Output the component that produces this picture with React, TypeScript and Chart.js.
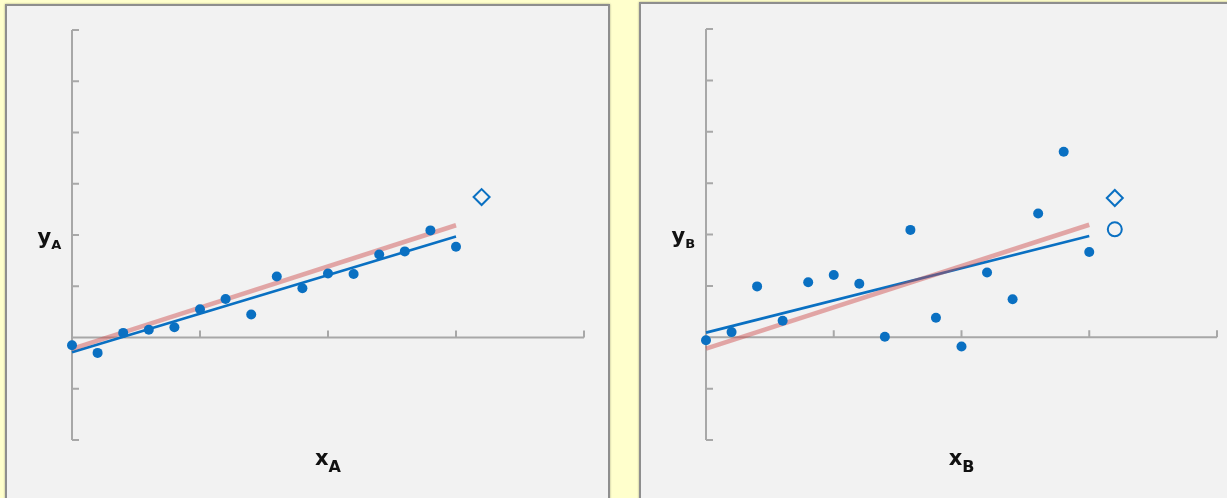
import React, { useEffect, useRef } from "react";
import { Chart, registerables } from "chart.js";

Chart.register(...registerables);

// Sample positions shared by both panels
const sampleX = [0, 0.2, 0.4, 0.6, 0.8, 1.0, 1.2, 1.4, 1.6, 1.8, 2.0, 2.2, 2.4, 2.6, 2.8, 3.0];

// Panel A observations (low noise)
const sampleYA = [-0.15, -0.3, 0.09, 0.15, 0.2, 0.55, 0.75, 0.45, 1.19, 0.96, 1.25, 1.24, 1.62, 1.68, 2.09, 1.77];
// Panel B observations (high noise)
const sampleYB = [-0.06, 0.1, 0.99, 0.32, 1.07, 1.21, 1.04, 0.01, 2.09, 0.38, -0.18, 1.26, 0.74, 2.41, 3.61, 1.66];

// Line end points (x = 0 and x = 3)
const lineX = [0, 3];
const trueLineY = [-0.22, 2.19];
const fitLineYA = [-0.29, 1.97];
const fitLineYB = [0.09, 1.97];

// Prediction point markers
const predictX = 3.2;
const diamondYA = 2.74;
const diamondYB = 2.71;
const circleYB = 2.1;

// Axis ranges and tick positions
const xRange = [0, 4];
const yRange = [-2, 6];
const xTicks = [1, 2, 3, 4];
const yTicks = [-2, -1, 0, 1, 2, 3, 4, 5, 6];

const BLUE = "#0a70c2";
const PINK = "rgba(205, 72, 72, 0.45)";
const AXIS = "#a8a8a8";
const FONT = "'DejaVu Sans', Verdana, sans-serif";

type PanelProps = {
  ys: number[];
  fit: number[];
  diamondY: number;
  circleY?: number;
  sub: string;
  left: number;
  top: number;
  width: number;
  canvasW: number;
  canvasH: number;
  padding: { left: number; top: number; right: number; bottom: number };
};

function drawLabel(
  ctx: CanvasRenderingContext2D,
  main: string,
  sub: string,
  x: number,
  baseline: number,
  mainSize: number,
  subSize: number,
  drop: number,
  align: "left" | "center"
) {
  ctx.save();
  ctx.fillStyle = "#111";
  ctx.textAlign = "left";
  ctx.textBaseline = "alphabetic";
  ctx.font = `bold ${mainSize}px ${FONT}`;
  const wMain = ctx.measureText(main).width;
  ctx.font = `bold ${subSize}px ${FONT}`;
  const wSub = ctx.measureText(sub).width;
  const startX = align === "center" ? x - (wMain + wSub) / 2 : x;
  ctx.font = `bold ${mainSize}px ${FONT}`;
  ctx.fillText(main, startX, baseline);
  ctx.font = `bold ${subSize}px ${FONT}`;
  ctx.fillText(sub, startX + wMain, baseline + drop);
  ctx.restore();
}

const axesPlugin = {
  id: "crossAxes",
  beforeDatasetsDraw(chart: any) {
    const { ctx, scales } = chart;
    const xs = scales.x;
    const ys = scales.y;
    const x0 = xs.getPixelForValue(0);
    const y0 = ys.getPixelForValue(0);
    const tick = 7;
    ctx.save();
    ctx.strokeStyle = AXIS;
    ctx.lineWidth = 2;
    ctx.beginPath();
    // vertical axis with ticks pointing right
    ctx.moveTo(x0, ys.getPixelForValue(yRange[0]));
    ctx.lineTo(x0, ys.getPixelForValue(yRange[1]));
    yTicks.forEach((v) => {
      const py = ys.getPixelForValue(v);
      ctx.moveTo(x0, py);
      ctx.lineTo(x0 + tick, py);
    });
    // horizontal axis at y = 0 with ticks pointing up
    ctx.moveTo(xs.getPixelForValue(xRange[0]), y0);
    ctx.lineTo(xs.getPixelForValue(xRange[1]), y0);
    xTicks.forEach((v) => {
      const px = xs.getPixelForValue(v);
      ctx.moveTo(px, y0);
      ctx.lineTo(px, y0 - tick);
    });
    ctx.stroke();
    ctx.restore();
  },
  afterDraw(chart: any) {
    const { ctx, scales } = chart;
    const sub = chart.options.plugins.crossAxes.sub;
    const xs = scales.x;
    const ys = scales.y;
    drawLabel(ctx, "y", sub, xs.getPixelForValue(0) - 34.5, ys.getPixelForValue(2) + 8.5, 21, 13, 5, "left");
    drawLabel(ctx, "x", sub, xs.getPixelForValue(2), ys.getPixelForValue(-2) + 25, 21, 16, 6.5, "center");
  },
};

function RegressionPanel(props: PanelProps) {
  const ref = useRef<HTMLCanvasElement>(null);

  useEffect(() => {
    if (!ref.current) return;
    const points = sampleX.map((x, i) => ({ x, y: props.ys[i] }));
    const datasets: any[] = [
      {
        data: points,
        pointRadius: 5,
        pointBackgroundColor: BLUE,
        pointBorderWidth: 0,
        showLine: false,
        clip: false,
      },
      {
        data: [{ x: predictX, y: props.diamondY }],
        pointStyle: "rectRot",
        pointRadius: 8,
        pointBorderWidth: 2,
        pointBorderColor: BLUE,
        pointBackgroundColor: "rgba(0,0,0,0)",
        showLine: false,
        clip: false,
      },
    ];
    if (props.circleY !== undefined) {
      datasets.push({
        data: [{ x: predictX, y: props.circleY }],
        pointStyle: "circle",
        pointRadius: 7,
        pointBorderWidth: 2,
        pointBorderColor: BLUE,
        pointBackgroundColor: "rgba(0,0,0,0)",
        showLine: false,
        clip: false,
      });
    }
    datasets.push(
      {
        data: lineX.map((x, i) => ({ x, y: trueLineY[i] })),
        showLine: true,
        borderColor: PINK,
        borderWidth: 4.5,
        pointRadius: 0,
        borderCapStyle: "butt",
        clip: false,
      },
      {
        data: lineX.map((x, i) => ({ x, y: props.fit[i] })),
        showLine: true,
        borderColor: BLUE,
        borderWidth: 2.6,
        pointRadius: 0,
        borderCapStyle: "butt",
        clip: false,
      }
    );

    const chart = new Chart(ref.current, {
      type: "scatter",
      data: { datasets },
      options: {
        animation: false,
        responsive: false,
        maintainAspectRatio: false,
        events: [],
        layout: { padding: props.padding },
        plugins: {
          legend: { display: false },
          tooltip: { enabled: false },
          crossAxes: { sub: props.sub },
        } as any,
        scales: {
          x: { type: "linear", min: xRange[0], max: xRange[1], display: false },
          y: { type: "linear", min: yRange[0], max: yRange[1], display: false },
        },
      },
      plugins: [axesPlugin],
    });
    return () => chart.destroy();
  }, []);

  return (
    <div
      style={{
        position: "absolute",
        left: props.left,
        top: props.top,
        width: props.width,
        height: 520,
        boxSizing: "border-box",
        border: "2px solid #8e8e8e",
        boxShadow: "0 0 2px rgba(0,0,0,0.35)",
        background: "#f2f2f2",
        overflow: "hidden",
      }}
    >
      <canvas
        ref={ref}
        width={props.canvasW}
        height={props.canvasH}
        style={{ display: "block", width: props.canvasW, height: props.canvasH }}
      />
    </div>
  );
}

export default function App() {
  return (
    <div
      style={{
        position: "fixed",
        left: 0,
        top: 0,
        width: 1227,
        height: 498,
        overflow: "hidden",
        background: "#ffffcc",
      }}
    >
      <RegressionPanel
        ys={sampleYA}
        fit={fitLineYA}
        diamondY={diamondYA}
        sub="A"
        left={5}
        top={4}
        width={605}
        canvasW={601}
        canvasH={492}
        padding={{ left: 65, top: 24, right: 24, bottom: 58 }}
      />
      <RegressionPanel
        ys={sampleYB}
        fit={fitLineYB}
        diamondY={diamondYB}
        circleY={circleYB}
        sub="B"
        left={639}
        top={2}
        width={620}
        canvasW={586}
        canvasH={494}
        padding={{ left: 65, top: 25, right: 9, bottom: 58 }}
      />
    </div>
  );
}
